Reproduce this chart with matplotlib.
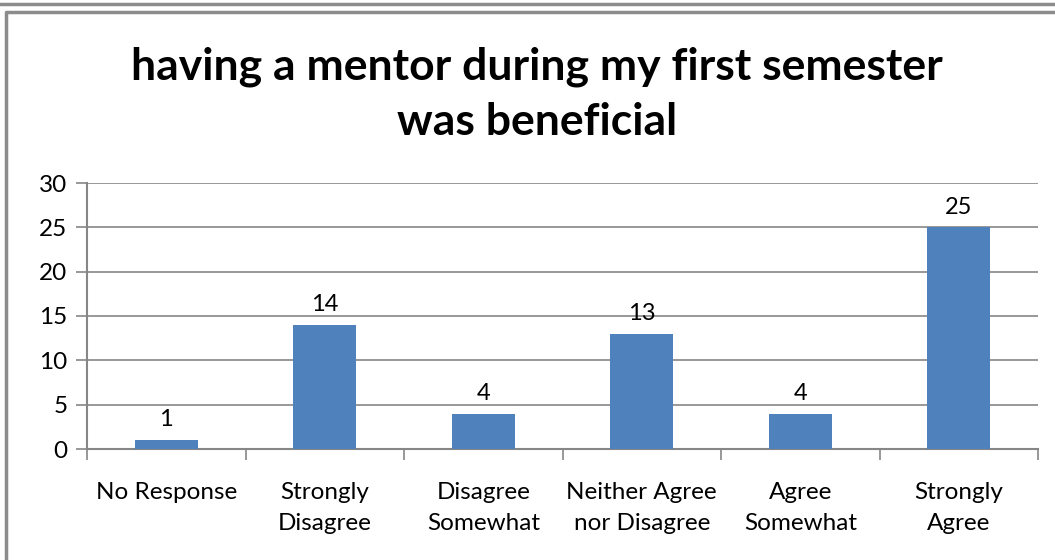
import matplotlib.pyplot as plt
from matplotlib.lines import Line2D
import numpy as np

categories = ['No Response', 'Strongly\nDisagree', 'Disagree\nSomewhat',
              'Neither Agree\nnor Disagree', 'Agree\nSomewhat', 'Strongly\nAgree']
counts = [1, 14, 4, 13, 4, 25]

plt.rcParams['font.family'] = ['Lato', 'DejaVu Sans']

W, H = 1055, 560
fig = plt.figure(figsize=(W / 100, H / 100), dpi=100)

# plot area in pixels: x 87..1038, y 183..449
ax = fig.add_axes([87 / W, 1 - 449 / H, (1038 - 87) / W, (449 - 183) / H])

x = np.arange(len(categories))
ax.bar(x, counts, width=0.4, color='#4f81bd', zorder=3)
for xi, v in zip(x, counts):
    ax.text(xi, v + 1.1, str(v), ha='center', va='bottom', fontsize=17)

ax.set_xlim(-0.5, len(categories) - 0.5)
ax.set_ylim(0, 30)
ax.set_yticks(range(0, 31, 5))
ax.yaxis.grid(True, color='#868686', linewidth=1.2, zorder=0)
ax.tick_params(axis='y', length=8, width=1.2, color='#868686', labelsize=17.5, pad=6)

ax.set_xticks(x)
ax.set_xticklabels(categories, fontsize=17.5, linespacing=1.55)
ax.tick_params(axis='x', length=0, pad=24)
ax.set_xticks(np.arange(-0.5, len(categories)), minor=True)
ax.tick_params(axis='x', which='minor', length=8, width=1.2, color='#868686')

for s in ['top', 'right']:
    ax.spines[s].set_visible(False)
for s in ['left', 'bottom']:
    ax.spines[s].set_color('#868686')
    ax.spines[s].set_linewidth(1.5)

fig.text(537 / W, 1 - 94 / H, 'having a mentor during my first semester\nwas beneficial',
         ha='center', va='center', fontsize=32, fontweight='bold', linespacing=1.45)

# surrounding chart frames
frame_col = '#8c8c8c'
fig.add_artist(Line2D([0, 1], [1 - 4 / H, 1 - 4 / H], color=frame_col, lw=2.5))
fig.add_artist(Line2D([6 / W, 6 / W, 1], [0, 1 - 12 / H, 1 - 12 / H], color=frame_col, lw=2.5))

fig.savefig('out.png', dpi=100)
